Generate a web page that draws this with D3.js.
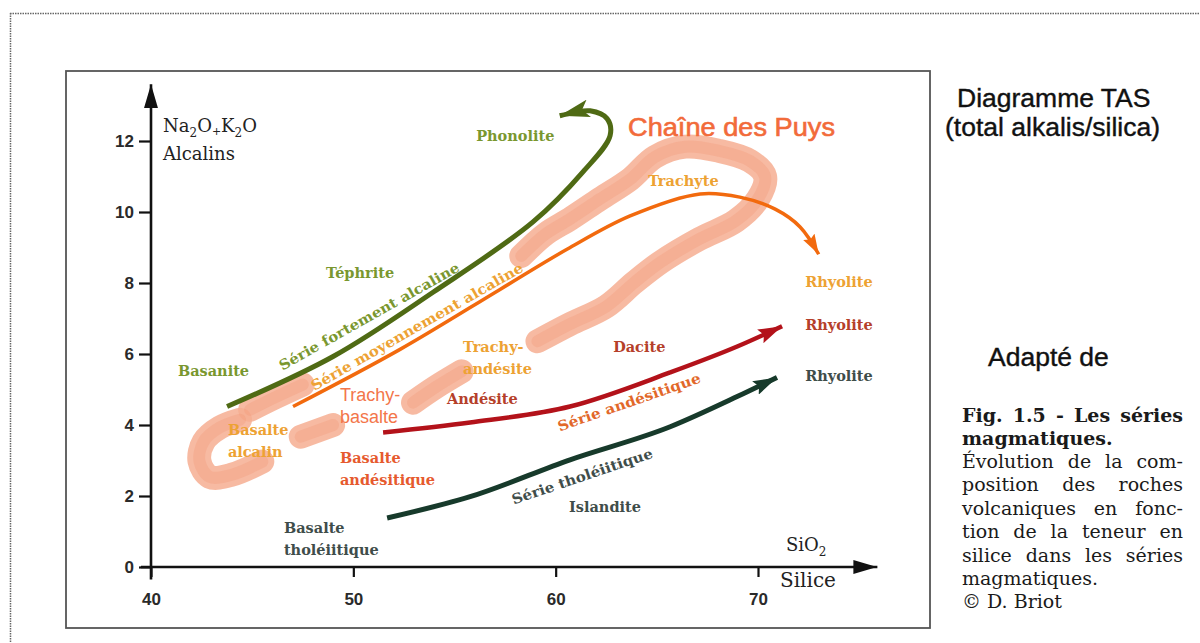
<!DOCTYPE html>
<html>
<head>
<meta charset="utf-8">
<script src="https://cdn.jsdelivr.net/npm/d3@7"></script>
<style>
body { margin: 0; background: #fff; }
text { font-family: "DejaVu Serif", serif; }
</style>
</head>
<body>
<svg id="chart" width="1200" height="643"></svg>
<script>
// tick values
var xTicks = [40, 50, 60, 70];
var yTicks = [0, 2, 4, 6, 8, 10, 12];

// series paths : [SiO2 %, Na2O+K2O %]
var serieFortement = [[43.76,4.52],[49.0,5.93],[53.94,7.74],[58.88,9.72],[61.35,11.13],[62.69,12.15],[62.54,12.63],[61.7,12.85],[60.9,12.8],[60.2,12.71]];
var serieMoyennement = [[47.02,4.52],[52.31,6.13],[57.25,7.82],[60.56,8.95],[63.68,9.89],[67.14,10.51],[69.1,10.42],[70.85,10.08],[72.08,9.58],[73.0,8.81]];
var serieAndesitique = [[51.47,3.79],[55.77,4.07],[60.71,4.52],[65.66,5.48],[68.97,6.21],[71.19,6.78]];
var serieTholeiitique = [[51.67,1.38],[55.77,1.98],[60.71,3.02],[65.66,3.95],[68.97,4.8],[70.94,5.34]];

// Chaîne des Puys brush trail, in pieces
var puys = [
    [[45.5,2.97],[44.0,2.6],[42.9,2.54],[42.4,2.97],[42.6,3.53],[43.4,3.93],[44.4,4.15]],
    [[44.9,4.43],[46.1,4.77],[47.5,5.14]],
    [[47.4,3.67],[49.0,4.0]],
    [[52.95,4.63],[54.05,5.06],[55.35,5.51]],
    [[59.1,6.36],[60.7,6.84],[62.5,7.34],[63.9,8.02],[65.2,8.59],[67.1,9.24],[68.9,9.75],[70.0,10.37],[70.35,11.0],[69.6,11.44],[68.1,11.72],[66.4,11.84],[64.9,11.55],[63.7,10.93],[62.2,10.37],[60.7,9.8],[59.5,9.38],[58.3,8.76]]
];

// rock names at [SiO2, alkalis]
var rocks = [
    { name: ['Phonolite'], at: [56.07, 12.0], group: 'olive' },
    { name: ['Trachyte'], at: [64.57, 10.73], group: 'gold' },
    { name: ['Téphrite'], at: [48.65, 8.14], group: 'olive' },
    { name: ['Basanite'], at: [41.33, 5.37], group: 'olive' },
    { name: ['Basalte', 'alcalin'], at: [43.8, 3.73], group: 'gold' },
    { name: ['Basalte', 'andésitique'], at: [49.34, 2.94], group: 'orange' },
    { name: ['Trachy-', 'andésite'], at: [55.42, 6.05], group: 'gold' },
    { name: ['Andésite'], at: [54.63, 4.6], group: 'brown' },
    { name: ['Dacite'], at: [62.84, 6.05], group: 'brown' },
    { name: ['Islandite'], at: [60.66, 1.55], group: 'slate' },
    { name: ['Basalte', 'tholéiitique'], at: [46.57, 0.96], group: 'slate' },
    { name: ['Rhyolite'], at: [72.33, 7.88], group: 'gold' },
    { name: ['Rhyolite'], at: [72.33, 6.69], group: 'brown' },
    { name: ['Rhyolite'], at: [72.33, 5.25], group: 'slate' }
];

// series names laid along [start, end]
var serieNames = [
    { name: 'Série fortement alcaline', from: [46.38, 5.65], to: [55.18, 8.47], group: 'olive' },
    { name: 'Série moyennement alcaline', from: [47.96, 5.08], to: [58.34, 8.47], group: 'gold' },
    { name: 'Série andésitique', from: [60.12, 3.95], to: [67.14, 5.34], group: 'orangeText' },
    { name: 'Série tholéiitique', from: [57.85, 1.89], to: [64.77, 3.22], group: 'slate' }
];

var captionLines = [
    'Évolution de la com-',
    'position des roches',
    'volcaniques en fonc-',
    'tion de la teneur en',
    'silice dans les séries',
    'magmatiques.',
    '© D. Briot'
];

var colors = {
    olive: '#7a972f',
    gold: '#eda233',
    orange: '#e65a2e',
    orangeText: '#e2682a',
    brown: '#b5402a',
    slate: '#3f4d4a'
};

var svg = d3.select('#chart');
var x = d3.scaleLinear().domain([40, 70]).range([151, 758]);
var y = d3.scaleLinear().domain([0, 12]).range([567, 141]);

// frames
svg.append('line').attr('x1', 10).attr('y1', 13.5).attr('x2', 1200).attr('y2', 13.5)
    .style('stroke', '#666').style('stroke-width', 1.5).style('stroke-dasharray', '1.5,1');
svg.append('line').attr('x1', 10.5).attr('y1', 13).attr('x2', 10.5).attr('y2', 643)
    .style('stroke', '#666').style('stroke-width', 1.5).style('stroke-dasharray', '1.5,1');
svg.append('rect').attr('x', 66).attr('y', 71).attr('width', 864).attr('height', 557)
    .style('fill', 'none').style('stroke', '#555').style('stroke-width', 1.8);

// arrow markers
var defs = svg.append('defs');
function marker(id, color, len, wid, notch) {
    defs.append('marker')
        .attr('id', id)
        .attr('viewBox', '0 0 ' + len + ' ' + wid)
        .attr('refX', len).attr('refY', wid / 2)
        .attr('markerWidth', len).attr('markerHeight', wid)
        .attr('markerUnits', 'userSpaceOnUse')
        .attr('orient', 'auto')
        .append('path')
        .attr('d', 'M0,0 L' + len + ',' + wid / 2 + ' L0,' + wid + ' L' + notch + ',' + wid / 2 + ' Z')
        .style('fill', color);
}
marker('arrAxis', '#111', 24, 14, 0);
marker('arrFort', '#4f6a14', 30, 18, 7);
marker('arrMoy', '#f26a0e', 20, 13, 3);
marker('arrAnd', '#b3121a', 24, 15, 4);
marker('arrThol', '#173a2b', 24, 15, 4);

// Chaîne des Puys band
var band = d3.line()
    .x(function(d) { return x(d[0]); })
    .y(function(d) { return y(d[1]); })
    .curve(d3.curveCatmullRom.alpha(0.5));

svg.append('g').selectAll('path').data(puys).enter().append('path')
    .attr('d', band)
    .style('fill', 'none')
    .style('stroke', '#f6ae92')
    .style('stroke-width', 24)
    .style('stroke-linecap', 'round')
    .style('stroke-linejoin', 'round')
    .style('opacity', 0.85);
svg.append('g').selectAll('path').data(puys).enter().append('path')
    .attr('d', band)
    .style('fill', 'none')
    .style('stroke', '#f29474')
    .style('stroke-width', 12)
    .style('stroke-linecap', 'round')
    .style('opacity', 0.3);

// axes
var yAxis = d3.axisLeft(y).tickValues(yTicks).tickSize(12).tickPadding(5);
var xAxis = d3.axisBottom(x).tickValues(xTicks).tickSize(10).tickPadding(16);

var gy = svg.append('g').attr('transform', 'translate(' + x(40) + ',0)').call(yAxis);
var gx = svg.append('g').attr('transform', 'translate(0,' + y(0) + ')').call(xAxis);
[gx, gy].forEach(function(g) {
    g.select('.domain').remove();
    g.selectAll('.tick line').style('stroke', '#111').style('stroke-width', 2.2);
    g.selectAll('.tick text')
        .style('font-family', '"Liberation Sans", Arial, sans-serif')
        .style('font-weight', 'bold')
        .style('font-size', '17px')
        .style('fill', '#2a2a2a');
});

svg.append('line')
    .attr('x1', x(40)).attr('y1', y(-0.35))
    .attr('x2', x(40)).attr('y2', y(13.6))
    .style('stroke', '#111').style('stroke-width', 2.6)
    .attr('marker-end', 'url(#arrAxis)');
svg.append('line')
    .attr('x1', x(39.5)).attr('y1', y(0))
    .attr('x2', x(75.9)).attr('y2', y(0))
    .style('stroke', '#111').style('stroke-width', 2.6)
    .attr('marker-end', 'url(#arrAxis)');

// series
var smooth = d3.line()
    .x(function(d) { return x(d[0]); })
    .y(function(d) { return y(d[1]); })
    .curve(d3.curveCatmullRom.alpha(0.5));
var mono = d3.line()
    .x(function(d) { return x(d[0]); })
    .y(function(d) { return y(d[1]); })
    .curve(d3.curveMonotoneX);

var series = [
    { pts: serieFortement, color: '#4f6a14', width: 5, mk: 'arrFort', gen: smooth },
    { pts: serieMoyennement, color: '#f26a0e', width: 3.5, mk: 'arrMoy', gen: smooth },
    { pts: serieAndesitique, color: '#b3121a', width: 4.5, mk: 'arrAnd', gen: mono },
    { pts: serieTholeiitique, color: '#173a2b', width: 5, mk: 'arrThol', gen: mono }
];
svg.append('g').selectAll('path').data(series).enter().append('path')
    .attr('d', function(d) { return d.gen(d.pts); })
    .style('fill', 'none')
    .style('stroke', function(d) { return d.color; })
    .style('stroke-width', function(d) { return d.width; })
    .attr('marker-end', function(d) { return 'url(#' + d.mk + ')'; });

// rock names
var rockText = svg.append('g').selectAll('text').data(rocks).enter().append('text')
    .attr('x', function(d) { return x(d.at[0]); })
    .attr('y', function(d) { return y(d.at[1]); })
    .style('font-size', '14.5px')
    .style('font-weight', 'bold')
    .style('fill', function(d) { return colors[d.group]; });
rockText.selectAll('tspan').data(function(d) {
    return d.name.map(function(n) { return { n: n, x: x(d.at[0]) }; });
}).enter().append('tspan')
    .attr('x', function(d) { return d.x; })
    .attr('dy', function(d, i) { return i === 0 ? 0 : 22; })
    .text(function(d) { return d.n; });

// Trachy-basalte (sans face in the figure)
svg.append('text')
    .attr('x', x(49.34)).attr('y', y(4.69))
    .style('font-family', '"Liberation Sans", Arial, sans-serif')
    .style('font-size', '18px')
    .style('fill', '#f3764a')
    .selectAll('tspan').data(['Trachy-', 'basalte']).enter().append('tspan')
    .attr('x', x(49.34))
    .attr('dy', function(d, i) { return i === 0 ? 0 : 22; })
    .text(function(d) { return d; });

// series names along the curves
svg.append('g').selectAll('text').data(serieNames).enter().append('text')
    .attr('transform', function(d) {
        var x0 = x(d.from[0]), y0 = y(d.from[1]), x1 = x(d.to[0]), y1 = y(d.to[1]);
        var a = Math.atan2(y1 - y0, x1 - x0) * 180 / Math.PI;
        return 'translate(' + x0 + ',' + y0 + ') rotate(' + a + ')';
    })
    .attr('dy', '0.35em')
    .attr('textLength', function(d) {
        return Math.sqrt(Math.pow(x(d.to[0]) - x(d.from[0]), 2) + Math.pow(y(d.to[1]) - y(d.from[1]), 2));
    })
    .attr('lengthAdjust', 'spacingAndGlyphs')
    .style('font-size', '14px')
    .style('font-weight', 'bold')
    .style('fill', function(d) { return colors[d.group]; })
    .text(function(d) { return d.name; });

// axis titles
var yt = svg.append('text').attr('x', 163).attr('y', 132)
    .style('font-size', '18px').style('fill', '#222');
yt.append('tspan').text('Na');
yt.append('tspan').attr('dy', 5).style('font-size', '12px').text('2');
yt.append('tspan').attr('dy', -5).text('O');
yt.append('tspan').attr('dy', 3).style('font-size', '11px').text('+');
yt.append('tspan').attr('dy', -3).text('K');
yt.append('tspan').attr('dy', 5).style('font-size', '12px').text('2');
yt.append('tspan').attr('dy', -5).text('O');
svg.append('text').attr('x', 163).attr('y', 160)
    .style('font-size', '18px').style('fill', '#222').text('Alcalins');

var xt = svg.append('text').attr('x', 786).attr('y', 551)
    .style('font-size', '18px').style('fill', '#222');
xt.append('tspan').text('SiO');
xt.append('tspan').attr('dy', 5).style('font-size', '12px').text('2');
svg.append('text').attr('x', 780).attr('y', 587)
    .style('font-size', '20px').style('fill', '#222').text('Silice');

svg.append('text').attr('x', 628).attr('y', 136)
    .attr('textLength', 207).attr('lengthAdjust', 'spacingAndGlyphs')
    .style('font-family', '"Liberation Sans", Arial, sans-serif')
    .style('font-size', '25px')
    .style('fill', '#f26b3a')
    .style('stroke', '#f26b3a').style('stroke-width', 0.6)
    .text('Chaîne des Puys');

// side panel
var sans = '"Liberation Sans", Arial, sans-serif';
[['Diagramme TAS', 957, 107], ['(total alkalis/silica)', 945, 136], ['Adapté de', 988, 366]].forEach(function(t) {
    svg.append('text').attr('x', t[1]).attr('y', t[2])
        .style('font-family', sans).style('font-size', '26.5px').style('fill', '#111')
        .style('stroke', '#111').style('stroke-width', 0.4)
        .text(t[0]);
});

// justified caption: spread words over the column
function justify(sel, width) {
    sel.each(function() {
        var t = d3.select(this);
        var words = t.text().split(' ');
        var w = this.getComputedTextLength();
        if (w > width) {
            t.attr('textLength', width).attr('lengthAdjust', 'spacingAndGlyphs');
        } else if (words.length > 1) {
            t.style('word-spacing', ((width - w) / (words.length - 1)) + 'px');
        }
    });
}

var colX = 962, colW = 221;
svg.append('text').attr('x', colX).attr('y', 422)
    .style('font-size', '19px').style('font-weight', 'bold').style('fill', '#1a1a1a')
    .text('Fig. 1.5 - Les séries')
    .call(justify, colW);
svg.append('text').attr('x', colX).attr('y', 445)
    .style('font-size', '19px').style('font-weight', 'bold').style('fill', '#1a1a1a')
    .text('magmatiques.');

svg.append('g').selectAll('text').data(captionLines).enter().append('text')
    .attr('x', colX)
    .attr('y', function(d, i) { return 468 + i * 23.4; })
    .style('font-size', '19px')
    .style('fill', '#1a1a1a')
    .text(function(d) { return d; })
    .filter(function(d, i) { return i < 5; })
    .call(justify, colW);
</script>
</body>
</html>
